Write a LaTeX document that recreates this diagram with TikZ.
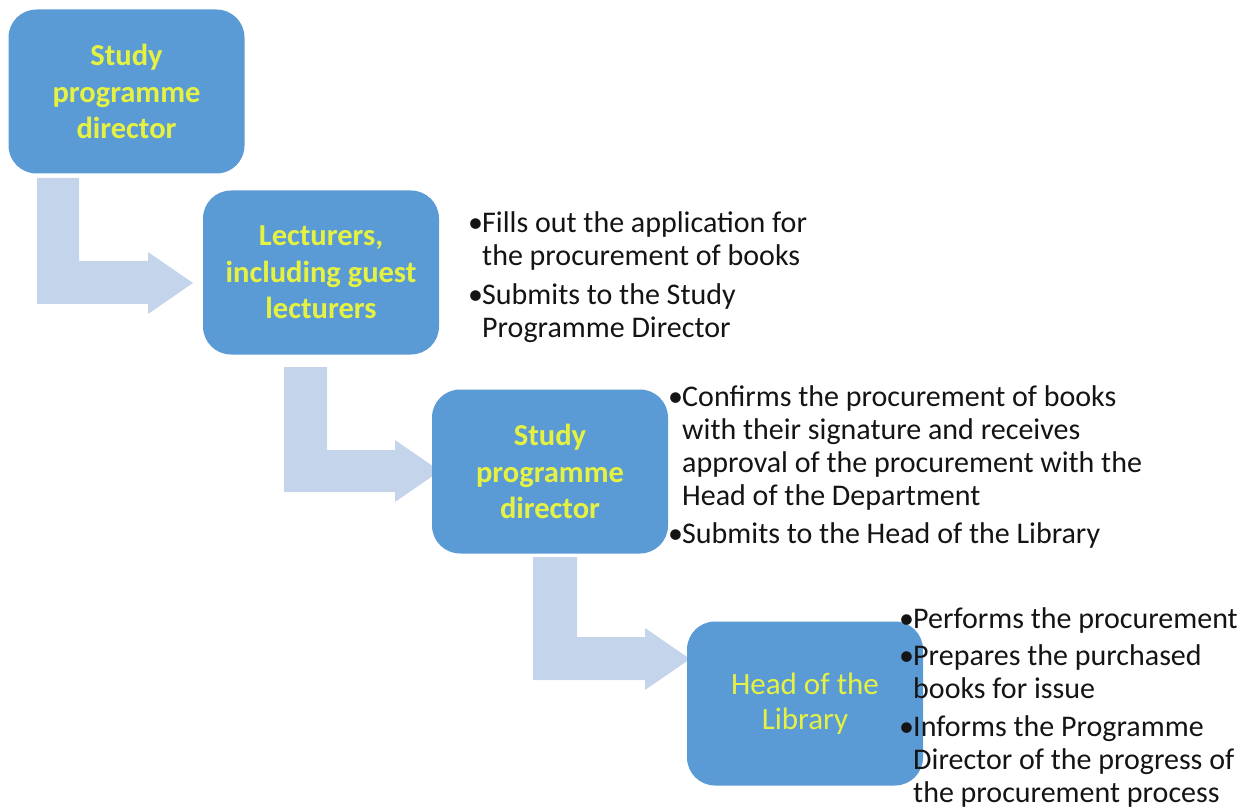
\documentclass[tikz,border=0pt]{standalone}
\usepackage{fontspec}
\setmainfont{Carlito}
\definecolor{boxblue}{RGB}{91,155,213}
\definecolor{arrowblue}{RGB}{196,213,235}
\definecolor{txtyellow}{RGB}{230,242,66}
\definecolor{txtdark}{RGB}{20,20,20}
\newcommand\bulletmark{\makebox[11pt][l]{\hspace{-3pt}•}}
\begin{document}
\begin{tikzpicture}[x=1pt,y=-1pt,
  stagebox/.style={fill=boxblue, rounded corners=28pt, minimum width=236pt,
    minimum height=164pt, inner sep=0pt, text=txtyellow, align=center,
    font=\fontsize{30.5}{36.5}\selectfont\bfseries},
  bentarrow/.style={fill=arrowblue},
  notes/.style={anchor=base west, inner sep=0pt, text=txtdark,
    font=\fontsize{30}{33}\selectfont}]
\useasboundingbox (0,0) rectangle (1250,810);
% bent arrows
\fill[bentarrow] (37,178) -- (79,178) -- (79,261) -- (148,261) -- (148,252)
  -- (193,283) -- (148,314) -- (148,304) -- (37,304) -- cycle;
\fill[bentarrow] (284,367) -- (327,367) -- (327,450) -- (395,450) -- (395,440)
  -- (440,471) -- (395,502) -- (395,492) -- (284,492) -- cycle;
\fill[bentarrow] (533,557) -- (577,557) -- (577,637) -- (645,637) -- (645,628)
  -- (690,659) -- (645,690) -- (645,680) -- (533,680) -- cycle;
% boxes
\node[stagebox] (b1) at (126.5,91.5) {Study\\programme\\director};
\node[stagebox] (b2) at (321,272.5) {Lecturers,\\including guest\\lecturers};
\node[stagebox] (b3) at (550,471.5) {Study\\programme\\director};
\node[stagebox, font=\fontsize{31}{35}\selectfont] (b4) at (805,703.5) {Head of the\\Library};
% notes
\node[notes] (n1) at (471,233) {\begin{tabular}[t]{@{}l@{}l@{}}
\bulletmark & Fills out the application for\\
 & the procurement of books\\[6pt]
\bulletmark & Submits to the Study\\
 & Programme Director
\end{tabular}};
\node[notes] (n2) at (671,406) {\begin{tabular}[t]{@{}l@{}l@{}}
\bulletmark & Confirms the procurement of books\\
 & with their signature and receives\\
 & approval of the procurement with the\\
 & Head of the Department\\[5pt]
\bulletmark & Submits to the Head of the Library
\end{tabular}};
\node[notes] (n3) at (902,628) {\begin{tabular}[t]{@{}l@{}l@{}}
\bulletmark & Performs the procurement\\[4.5pt]
\bulletmark & Prepares the purchased\\
 & books for issue\\[4.5pt]
\bulletmark & Informs the Programme\\
 & Director of the progress of\\
 & the procurement process
\end{tabular}};
\end{tikzpicture}
\end{document}
